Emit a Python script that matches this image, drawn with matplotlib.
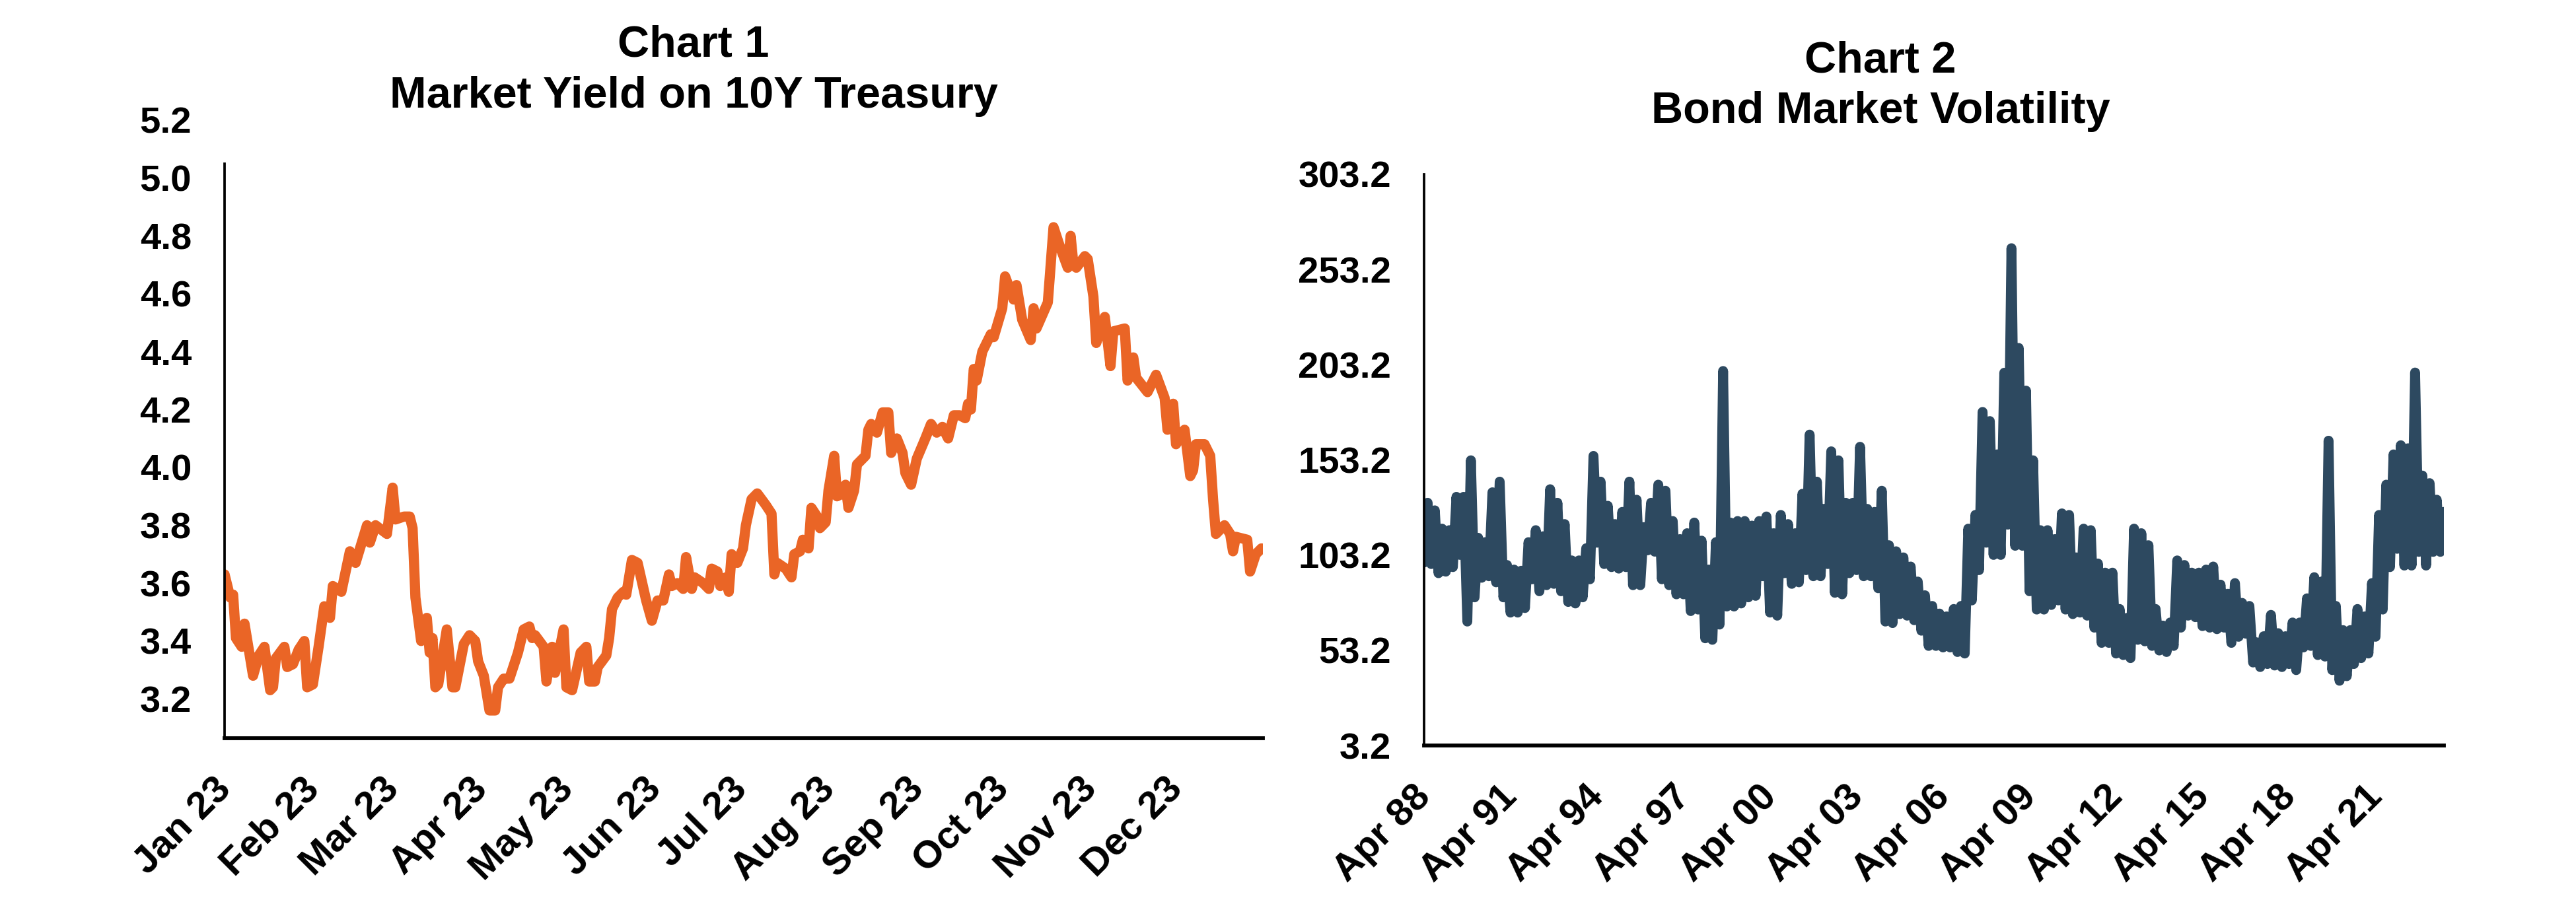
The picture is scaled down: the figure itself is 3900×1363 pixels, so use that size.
import pandas as pd
import matplotlib
matplotlib.use('Agg')
from matplotlib import pyplot as plt
import matplotlib.transforms as mtransforms

plt.rcParams['font.family'] = ['Liberation Sans', 'DejaVu Sans']
plt.rcParams['font.weight'] = 'bold'

# Chart 1 - 10Y treasury yield 2023 (day of year)
yield_day = [0, 2, 3, 4, 6, 7, 10, 12, 14, 16, 17, 18, 21, 22, 24, 26, 28, 29, 31, 33,
             35, 37, 38, 41, 44, 46, 50, 51, 53, 57, 59, 60, 63, 65, 66, 67, 69, 71, 72, 73,
             74, 75, 78, 80, 81, 84, 86, 88, 89, 91, 93, 95, 96, 98, 100, 101, 103, 105, 107, 108,
             109, 112, 113, 115, 116, 119, 120, 122, 125, 127, 128, 130, 131, 134, 135, 136, 138, 140, 141, 143,
             145, 148, 150, 152, 154, 156, 157, 159, 161, 162, 164, 165, 168, 170, 171, 173, 174, 176, 177, 178,
             180, 182, 183, 185, 187, 190, 192, 193, 194, 197, 199, 200, 202, 203, 205, 206, 208, 209, 211, 212,
             214, 215, 217, 218, 219, 221, 222, 225, 226, 227, 229, 231, 233, 234, 236, 238, 239, 241, 243, 246,
             248, 250, 252, 254, 256, 258, 260, 261, 262, 263, 264, 266, 268, 269, 270, 273, 274, 277, 278, 280,
             283, 284, 285, 289, 291, 293, 296, 297, 298, 299, 302, 303, 305, 306, 309, 311, 312, 316, 317, 319,
             320, 324, 327, 330, 331, 333, 334, 337, 339, 340, 341, 344, 346, 347, 348, 351, 353, 354, 355, 359,
             360, 362, 364]
yield_pct = [3.63, 3.55, 3.56, 3.41, 3.38, 3.46, 3.28, 3.35, 3.38, 3.23, 3.24, 3.34, 3.38, 3.31, 3.32, 3.37, 3.40, 3.24, 3.25, 3.38,
             3.52, 3.48, 3.59, 3.57, 3.71, 3.67, 3.80, 3.74, 3.80, 3.77, 3.93, 3.82, 3.83, 3.83, 3.79, 3.55, 3.40, 3.48, 3.36, 3.41,
             3.24, 3.25, 3.44, 3.24, 3.24, 3.39, 3.42, 3.40, 3.33, 3.28, 3.16, 3.16, 3.24, 3.27, 3.27, 3.30, 3.36, 3.44, 3.45, 3.41,
             3.42, 3.38, 3.26, 3.38, 3.29, 3.44, 3.24, 3.23, 3.36, 3.38, 3.26, 3.26, 3.31, 3.35, 3.41, 3.51, 3.55, 3.57, 3.56, 3.68,
             3.67, 3.54, 3.47, 3.54, 3.54, 3.63, 3.59, 3.60, 3.58, 3.69, 3.58, 3.62, 3.60, 3.58, 3.65, 3.64, 3.59, 3.62, 3.57, 3.70,
             3.67, 3.72, 3.80, 3.89, 3.91, 3.87, 3.84, 3.63, 3.67, 3.65, 3.62, 3.70, 3.71, 3.75, 3.72, 3.86, 3.83, 3.79, 3.81, 3.92,
             4.04, 3.90, 3.91, 3.94, 3.86, 3.92, 4.01, 4.04, 4.13, 4.15, 4.12, 4.19, 4.19, 4.05, 4.10, 4.05, 3.98, 3.94, 4.03, 4.10,
             4.15, 4.12, 4.14, 4.10, 4.18, 4.18, 4.17, 4.22, 4.20, 4.34, 4.30, 4.40, 4.44, 4.46, 4.45, 4.55, 4.66, 4.58, 4.63, 4.51,
             4.44, 4.55, 4.48, 4.57, 4.83, 4.77, 4.69, 4.80, 4.70, 4.69, 4.73, 4.72, 4.59, 4.43, 4.52, 4.35, 4.47, 4.48, 4.30, 4.38,
             4.31, 4.26, 4.32, 4.24, 4.13, 4.22, 4.08, 4.13, 3.97, 3.99, 4.08, 4.08, 4.04, 3.89, 3.77, 3.80, 3.77, 3.71, 3.76, 3.75,
             3.64, 3.70, 3.72]
yield_ticks = [3.2, 3.4, 3.6, 3.8, 4.0, 4.2, 4.4, 4.6, 4.8, 5.0, 5.2]
month_ticks = ['2023-01-01', '2023-02-01', '2023-03-01', '2023-04-01', '2023-05-01', '2023-06-01',
               '2023-07-01', '2023-08-01', '2023-09-01', '2023-10-01', '2023-11-01', '2023-12-01']
month_labels = ['Jan 23', 'Feb 23', 'Mar 23', 'Apr 23', 'May 23', 'Jun 23',
                'Jul 23', 'Aug 23', 'Sep 23', 'Oct 23', 'Nov 23', 'Dec 23']

# Chart 2 - bond market volatility, quarterly highs and lows of the daily line from Apr 1988
move_start = '1988-04-01'
move_hi = [130.7, 126.7, 117.1, 116.3, 133.8, 133.8, 153.0, 112.3, 110.0, 136.2,
           141.8, 98.0, 95.6, 95.0, 110.0, 116.3, 113.1, 137.8, 130.7, 119.5,
           100.4, 100.4, 106.8, 155.3, 141.8, 129.1, 119.5, 125.9, 141.8, 132.3,
           117.9, 130.7, 140.2, 137.0, 121.1, 111.6, 114.7, 120.3, 110.8, 95.6,
           110.0, 199.9, 120.3, 121.1, 121.1, 118.7, 121.1, 123.5, 114.7, 124.3,
           119.5, 114.7, 135.4, 166.5, 141.8, 127.5, 157.7, 153.0, 130.7, 130.7,
           160.1, 127.5, 125.9, 137.0, 108.4, 105.2, 102.0, 97.2, 89.3, 82.1,
           76.5, 72.5, 71.0, 74.9, 76.5, 117.1, 124.3, 178.4, 173.6, 156.1,
           199.0, 264.4, 212.0, 189.6, 153.0, 116.3, 116.3, 111.6, 125.1, 124.3,
           102.0, 117.1, 116.3, 98.8, 94.0, 94.0, 74.9, 70.2, 117.1, 114.7,
           108.4, 74.9, 66.2, 67.8, 100.4, 98.0, 94.0, 94.0, 95.6, 97.2,
           87.7, 82.9, 88.5, 78.1, 76.5, 57.4, 60.6, 71.8, 62.2, 60.6,
           67.8, 67.8, 80.5, 91.6, 89.3, 163.3, 76.5, 63.8, 63.8, 74.9,
           71.0, 88.5, 124.3, 140.2, 156.1, 160.9, 159.3, 199.1, 145.0, 141.0,
           132.3, 125.9]
move_lo = [99.3, 98.5, 93.7, 94.5, 96.9, 103.3, 68.3, 81.0, 91.3, 92.1,
           88.9, 81.0, 73.0, 73.0, 75.4, 90.5, 84.2, 87.4, 88.1, 84.2,
           78.6, 77.8, 81.0, 90.5, 109.7, 98.5, 96.9, 96.1, 96.9, 87.4,
           87.4, 105.7, 105.0, 90.5, 87.4, 82.6, 82.6, 73.8, 74.6, 59.5,
           58.7, 66.7, 76.2, 76.2, 77.8, 81.0, 81.8, 92.1, 73.0, 71.4,
           93.7, 88.1, 88.9, 95.3, 92.1, 92.1, 98.5, 83.4, 82.6, 93.7,
           95.3, 92.1, 92.1, 85.8, 68.3, 67.5, 72.2, 71.4, 69.0, 63.5,
           55.5, 55.5, 54.7, 54.7, 52.3, 51.5, 79.4, 95.3, 109.7, 103.3,
           103.3, 119.2, 108.1, 108.1, 84.2, 74.6, 74.6, 77.0, 79.4, 74.6,
           72.2, 73.0, 71.4, 65.1, 57.1, 57.1, 51.5, 50.7, 49.1, 58.7,
           57.9, 55.5, 53.1, 52.3, 55.5, 65.1, 71.4, 70.6, 65.9, 65.1,
           64.3, 65.1, 57.1, 60.3, 61.9, 46.8, 44.4, 46.0, 45.2, 44.4,
           46.0, 42.8, 54.7, 55.5, 50.7, 49.9, 42.8, 37.2, 39.6, 46.0,
           49.1, 51.5, 60.3, 74.6, 96.9, 106.5, 97.7, 97.7, 104.9, 97.7,
           104.9, 104.9]
move_ticks = [3.2, 53.2, 103.2, 153.2, 203.2, 253.2, 303.2]
apr_ticks = ['1988-04-01', '1991-04-01', '1994-04-01', '1997-04-01', '2000-04-01', '2003-04-01',
             '2006-04-01', '2009-04-01', '2012-04-01', '2015-04-01', '2018-04-01', '2021-04-01']
apr_labels = ['Apr 88', 'Apr 91', 'Apr 94', 'Apr 97', 'Apr 00', 'Apr 03',
              'Apr 06', 'Apr 09', 'Apr 12', 'Apr 15', 'Apr 18', 'Apr 21']

W, H = 3900, 1363
fig = plt.figure(figsize=(W / 300, H / 300), dpi=300)
label_shift = mtransforms.ScaledTranslation(5 / 72, 0, fig.dpi_scale_trans)


def style_axes(ax, xticks, xlabels, yticks, fmt):
    ax.spines['top'].set_visible(False)
    ax.spines['right'].set_visible(False)
    ax.spines['left'].set_linewidth(0.9)
    ax.spines['bottom'].set_linewidth(1.4)
    ax.set_yticks(yticks)
    ax.set_yticklabels([fmt % v for v in yticks], fontsize=13.5, fontweight='bold')
    ax.set_xticks(pd.to_datetime(xticks))
    ax.set_xticklabels(xlabels, fontsize=14, fontweight='bold', rotation=45, ha='right')
    ax.tick_params(axis='y', length=0, pad=12)
    ax.tick_params(axis='x', length=0, pad=12)
    for lab in ax.get_xticklabels():
        lab.set_transform(lab.get_transform() + label_shift)


#Chart 1
ax1 = fig.add_axes([340 / W, 1 - 1118 / H, 1572 / W, (1118 - 160) / H])
dates1 = pd.Timestamp('2023-01-01') + pd.to_timedelta(yield_day, unit='D')
ax1.plot(dates1, yield_pct, color='#EA6526', lw=3.7,
         solid_joinstyle='round', solid_capstyle='round')
ax1.set_xlim(pd.Timestamp('2023-01-01'), pd.Timestamp('2023-12-31 12:00'))
ax1.set_ylim(3.064, 5.25)
style_axes(ax1, month_ticks, month_labels, yield_ticks, '%.1f')
ax1.spines['left'].set_bounds(3.064, 5.05)

#Chart 2 - the daily line swings between the quarterly low and high
q_dates = pd.date_range(move_start, periods=len(move_hi), freq='QS')
move_dates, move_vals = [], []
for d, lo, hi in zip(q_dates, move_lo, move_hi):
    move_dates += [d, d + pd.Timedelta(days=45)]
    move_vals += [lo, hi]

ax2 = fig.add_axes([2156 / W, 1 - 1129 / H, 1544 / W, (1129 - 264) / H])
ax2.plot(move_dates, move_vals, color='#2D4960', lw=3.6,
         solid_joinstyle='round', solid_capstyle='round')
ax2.set_xlim(pd.Timestamp(move_start), move_dates[-1])
ax2.set_ylim(3.2, 303.2)
style_axes(ax2, apr_ticks, apr_labels, move_ticks, '%.1f')

#Titles
fig.text(1050 / W, 1 - 85 / H, 'Chart 1', ha='center', va='baseline', fontsize=16, fontweight='bold')
fig.text(1050 / W, 1 - 163 / H, 'Market Yield on 10Y Treasury', ha='center', va='baseline',
         fontsize=16, fontweight='bold')
fig.text(2847 / W, 1 - 110 / H, 'Chart 2', ha='center', va='baseline', fontsize=16, fontweight='bold')
fig.text(2847 / W, 1 - 186 / H, 'Bond Market Volatility', ha='center', va='baseline',
         fontsize=16, fontweight='bold')

fig.savefig('out.png', dpi=300, facecolor='white')
